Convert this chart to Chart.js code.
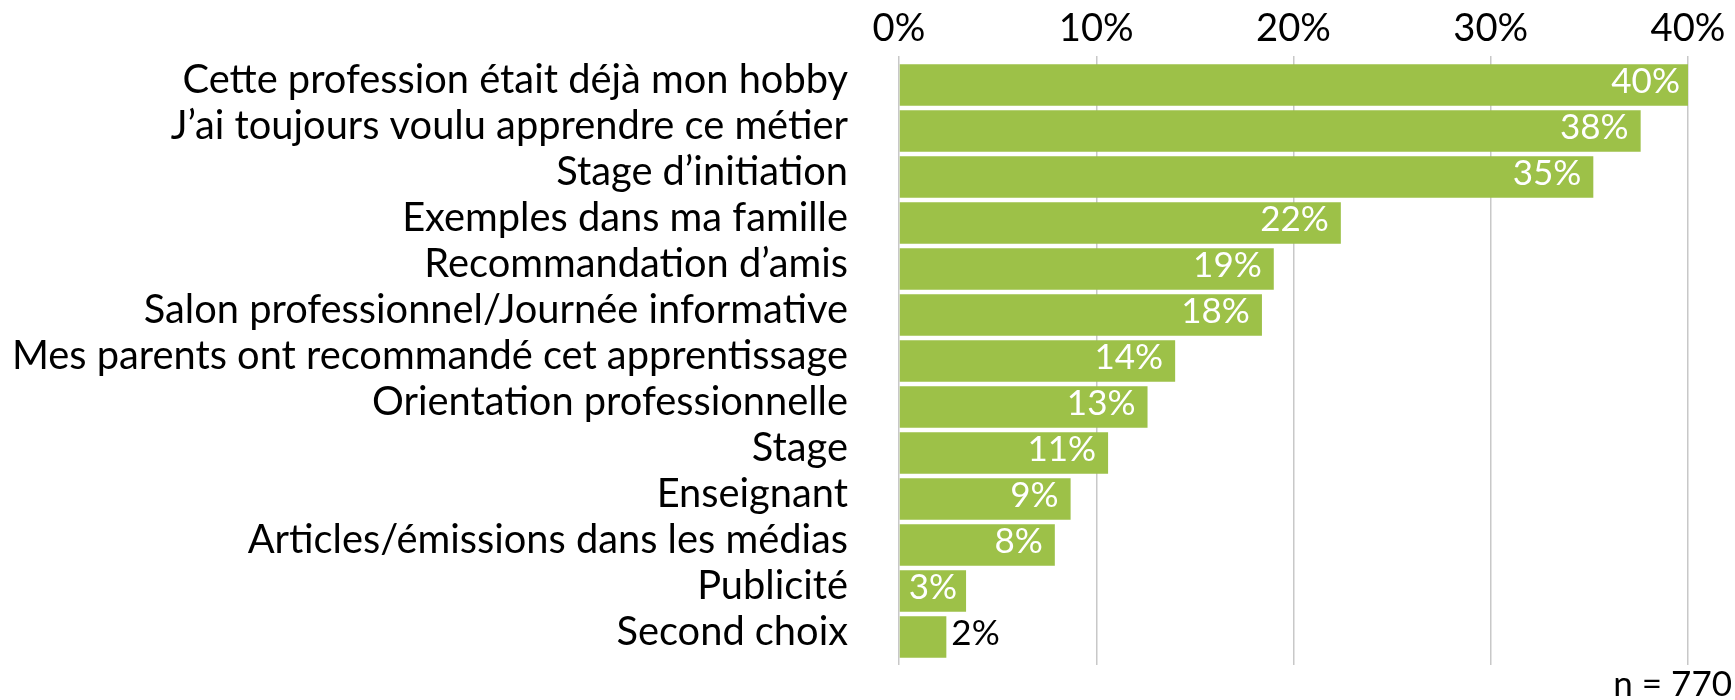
<!DOCTYPE html>
<html>
<head>
<meta charset="utf-8">
<script src="https://cdn.jsdelivr.net/npm/chart.js@4.4.0/dist/chart.umd.min.js"></script>
<style>
  html, body { margin: 0; padding: 0; background: #ffffff; }
  #wrap { width: 1735px; height: 700px; position: relative; }
</style>
</head>
<body>
<div id="wrap"><canvas id="c" width="1735" height="700"></canvas></div>
<script>
// ---- data ----
const categories = [
  'Cette profession était déjà mon hobby',
  'J’ai toujours voulu apprendre ce métier',
  'Stage d’initiation',
  'Exemples dans ma famille',
  'Recommandation d’amis',
  'Salon professionnel/Journée informative',
  'Mes parents ont recommandé cet apprentissage',
  'Orientation professionnelle',
  'Stage',
  'Enseignant',
  'Articles/émissions dans les médias',
  'Publicité',
  'Second choix'
];
const values = [40.2, 37.6, 35.2, 22.4, 19.0, 18.4, 14.0, 12.6, 10.6, 8.7, 7.9, 3.4, 2.4];
const tickValues = [0, 10, 20, 30, 40];
const noteText = 'n = 770';

// ---- styles ----
const FAMILY = 'Lato, "Open Sans", "Liberation Sans", sans-serif';
const GREEN = '#9dc148';
const GRID = '#c8c8c8';

const canvas = document.getElementById('c');
const mctx = canvas.getContext('2d');
mctx.font = '100px ' + FAMILY;
const longestW = mctx.measureText('Mes parents ont recommandé cet apprentissage').width;
const catSize = Math.round(836 / longestW * 1000) / 10;
const tickSize = catSize * 0.96;
const dataSize = catSize * 0.88;

const dataLabels = {
  id: 'dataLabels',
  afterDatasetsDraw(chart) {
    const ctx = chart.ctx;
    const meta = chart.getDatasetMeta(0);
    ctx.save();
    ctx.font = dataSize + 'px ' + FAMILY;
    ctx.textBaseline = 'alphabetic';
    meta.data.forEach((bar, i) => {
      const txt = Math.round(values[i]) + '%';
      const tw = ctx.measureText(txt).width;
      const barW = bar.x - bar.base;
      if (tw + 14 <= barW) {
        const inset = Math.min(12, (barW - tw) / 2);
        ctx.fillStyle = '#ffffff';
        ctx.textAlign = 'right';
        ctx.fillText(txt, bar.x - inset, bar.y + 8);
      } else {
        ctx.fillStyle = '#000000';
        ctx.textAlign = 'left';
        ctx.fillText(txt, bar.x + 5, bar.y + 8);
      }
    });
    ctx.restore();
  },
  afterDraw(chart) {
    const ctx = chart.ctx;
    ctx.save();
    ctx.font = dataSize + 'px ' + FAMILY;
    ctx.fillStyle = '#000000';
    ctx.textAlign = 'right';
    ctx.textBaseline = 'alphabetic';
    ctx.fillText(noteText, 1732, 696);
    ctx.restore();
  }
};

new Chart(canvas, {
  type: 'bar',
  data: {
    labels: categories,
    datasets: [{
      data: values,
      backgroundColor: GREEN,
      borderWidth: 0,
      barPercentage: 0.906,
      categoryPercentage: 1.0
    }]
  },
  options: {
    indexAxis: 'y',
    responsive: false,
    animation: false,
    devicePixelRatio: 1,
    layout: { padding: { left: 0, right: 47, top: 0, bottom: 0 } },
    plugins: { legend: { display: false }, tooltip: { enabled: false } },
    scales: {
      x: {
        type: 'linear',
        position: 'top',
        min: tickValues[0],
        max: tickValues[tickValues.length - 1],
        afterBuildTicks: (s) => { s.ticks = tickValues.map(v => ({ value: v })); },
        ticks: {
          callback: (v) => v + '%',
          color: '#000000',
          font: { family: FAMILY, size: tickSize },
          padding: 4,
          maxRotation: 0
        },
        grid: { color: GRID, lineWidth: 1.5, drawTicks: true, tickLength: 6 },
        border: { display: false },
        afterFit: (s) => { s.height = 62; }
      },
      x2: {
        type: 'linear',
        axis: 'x',
        position: 'bottom',
        min: tickValues[0],
        max: tickValues[tickValues.length - 1],
        afterBuildTicks: (s) => { s.ticks = tickValues.map(v => ({ value: v })); },
        ticks: { display: false },
        grid: { color: GRID, lineWidth: 1.5, drawOnChartArea: false, drawTicks: true, tickLength: 5 },
        border: { display: false },
        afterFit: (s) => { s.height = 40; }
      },
      y: {
        ticks: {
          color: '#000000',
          font: { family: FAMILY, size: catSize },
          padding: 51,
          labelOffset: -5,
          autoSkip: false
        },
        grid: { display: false, drawTicks: false },
        border: { display: false },
        afterFit: (s) => { s.width = 899; s.paddingTop = 0; s.paddingBottom = 0; }
      }
    }
  },
  plugins: [dataLabels]
});
</script>
</body>
</html>
